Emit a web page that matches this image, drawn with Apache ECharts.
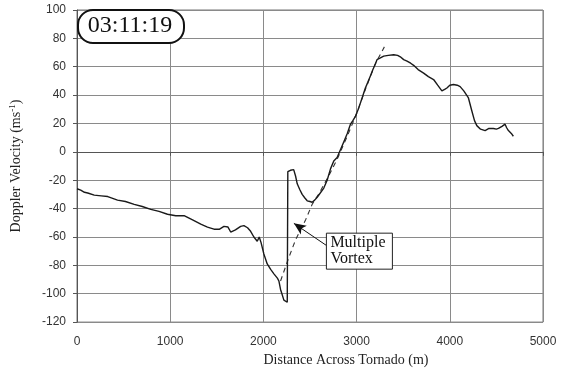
<!DOCTYPE html>
<html><head><meta charset="utf-8">
<script src="https://cdn.jsdelivr.net/npm/echarts@6/dist/echarts.min.js"></script>
<style>html,body{margin:0;padding:0;background:#fff}#c{width:566px;height:372px}</style>
</head><body><div id="c"></div>
<script>
// Observed Doppler velocity across the tornado
var dist = [0,40,80,115,185,260,330,435,520,614,700,792,880,971,1060,1149,1240,1328,1400,1470,1530,1577,1620,1649,1700,1756,1791,1830,1863,1898,1934,1955,1975,2005,2041,2080,2113,2150,2166,2184,2220,2256,2262,2290,2325,2345,2363,2390,2416,2445,2470,2500,2523,2550,2577,2610,2648,2684,2720,2755,2791,2830,2862,2900,2934,2960,2987,3023,3059,3094,3120,3148,3175,3201,3219,3250,3291,3340,3398,3440,3469,3505,3541,3580,3612,3660,3719,3770,3826,3870,3915,3945,3969,4000,4040,4080,4111,4150,4200,4236,4265,4290,4330,4379,4420,4468,4500,4522,4560,4593,4610,4629,4660,4682];
var vel = [-26,-27,-28.5,-29,-30.5,-31,-31.5,-34,-35,-37,-38.5,-40.5,-42,-44,-45,-45,-48,-51,-53,-54.5,-54.5,-52.5,-53,-56.5,-55,-52.5,-52,-53.5,-56,-60,-63,-60,-64,-72,-79,-83,-86,-89,-91,-97,-104.5,-106,-14,-13,-12.5,-17,-22.5,-26.5,-30,-32.5,-34.5,-35,-35.5,-34,-32,-29,-25.5,-20,-12,-6.5,-4,2,7,13,19.5,22,25,31,38,45,49,53.5,58,62,65,66,67.5,68,68.5,68,67,65,64,62.5,61,58,55.5,53,51,47,43,44,45,47,47.5,47,46,43,38,29,22,18.5,16,15,16.5,16.5,16,16.5,18,19.5,17,15,13,11];
// Dashed fitted profile
var fitDist = [2184,2270,2345,2452,2523,2600,2700,2800,2900,3000,3100,3200,3298];
var fitVel = [-91,-75,-62,-48,-37,-29,-17,-4,11,27,45,62,74];
// Axis ticks
var xTicks = [0,1000,2000,3000,4000,5000];
var yTicks = [-120,-100,-80,-60,-40,-20,0,20,40,60,80,100];
// Annotation
var timeLabel = '03:11:19';
var noteText = 'Multiple\nVortex';
var arrowFrom = [2677,-66];
var arrowTo = [2327,-50.4];
var noteCenter = [3030,-70];

var chart = echarts.init(document.getElementById('c'), null, {renderer:'canvas'});
var line = dist.map(function(d,i){return [d, vel[i]];});
var fit = fitDist.map(function(d,i){return [d, fitVel[i]];});
var gridColor = '#8a8a8a';
var plain = function(v){return String(v);};
chart.setOption({
  animation:false,
  grid:{left:76, right:23, top:10, bottom:49, show:true, borderColor:'#777', borderWidth:1},
  xAxis:{type:'value', min:xTicks[0], max:xTicks[xTicks.length-1], interval:1000,
    axisLine:{show:true, lineStyle:{color:'#555'}},
    axisTick:{show:true, length:4, inside:false, lineStyle:{color:'#555'}},
    splitLine:{show:true, lineStyle:{color:gridColor, width:1}},
    axisLabel:{margin:14, fontFamily:'Liberation Sans', fontSize:12, color:'#333', formatter:plain},
    name:'Distance Across Tornado (m)', nameLocation:'middle', nameGap:29,
    nameTextStyle:{fontFamily:'Liberation Serif', fontSize:14, color:'#222', padding:[0,0,0,72]}
  },
  yAxis:{type:'value', min:yTicks[0], max:yTicks[yTicks.length-1], interval:20,
    axisLine:{show:true, lineStyle:{color:'#555'}},
    axisTick:{show:true, length:4, lineStyle:{color:'#555'}},
    splitLine:{show:true, lineStyle:{color:gridColor, width:1}},
    axisLabel:{margin:11, fontFamily:'Liberation Sans', fontSize:12, color:'#333', formatter:plain},
    name:'Doppler Velocity (ms{sup|-1})', nameLocation:'middle', nameGap:52,
    nameTextStyle:{fontFamily:'Liberation Serif', fontSize:14, color:'#222',
      rich:{sup:{fontFamily:'Liberation Serif', fontSize:9, verticalAlign:'top', padding:[0,0,8,0]}}}
  },
  series:[
    {type:'line', data:line, showSymbol:false, symbol:'none', lineStyle:{color:'#1a1a1a', width:1.4}, z:5},
    {type:'line', data:fit, showSymbol:false, symbol:'none', lineStyle:{color:'#333', width:1.1, type:[5,4]}, z:4},
    {type:'line', data:[], markLine:{silent:true, symbol:['none','arrow'], symbolSize:[8,12],
      label:{show:false}, lineStyle:{color:'#111', width:1, type:'solid'},
      data:[[{coord:arrowFrom},{coord:arrowTo}]]}}
  ]
});
var nc = chart.convertToPixel({gridIndex:0}, noteCenter);
chart.setOption({graphic:[
  {type:'rect', left:77, top:9, shape:{width:106, height:33, r:15}, style:{fill:'#fff', stroke:'#111', lineWidth:2}, z:10},
  {type:'text', x:130, y:26, style:{text:timeLabel, font:'24px "Liberation Serif"', fill:'#111', align:'center', verticalAlign:'middle'}, z:11},
  {type:'rect', x:nc[0]-33, y:nc[1]-18, shape:{width:66, height:36}, style:{fill:'#fff', stroke:'#222', lineWidth:1}, z:10},
  {type:'text', x:nc[0]-29, y:nc[1]-16, style:{text:noteText, font:'16px "Liberation Serif"', lineHeight:16, fill:'#111'}, z:11}
]});
</script></body></html>
